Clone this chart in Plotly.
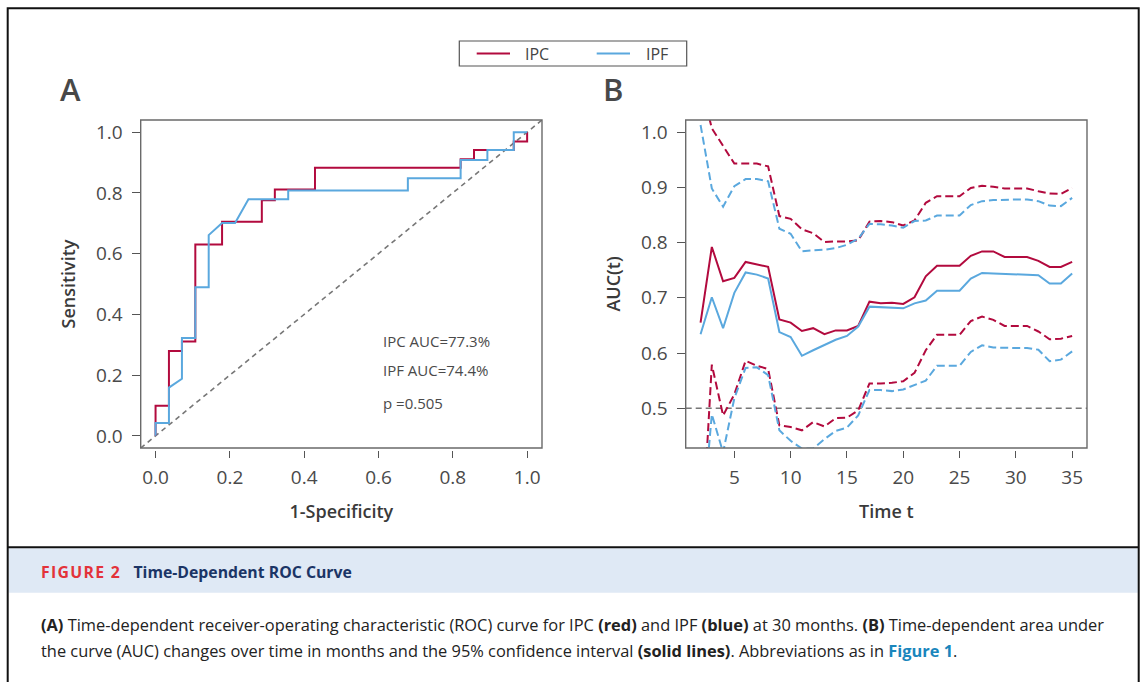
import plotly.graph_objects as go

# ---------------- data ----------------
# Panel A: time-dependent ROC at 30 months (step vertices)
ipc_fpr = [0, 0, 0.036, 0.036, 0.071, 0.071, 0.107, 0.107, 0.179, 0.179, 0.286, 0.286,
           0.321, 0.321, 0.429, 0.429, 0.821, 0.821, 0.857, 0.857, 0.964, 0.964, 1.0, 1.0]
ipc_tpr = [0, 0.099, 0.099, 0.279, 0.279, 0.311, 0.311, 0.630, 0.630, 0.705, 0.705, 0.776,
           0.776, 0.811, 0.811, 0.883, 0.883, 0.911, 0.911, 0.941, 0.941, 0.969, 0.969, 1.0]
ipf_fpr = [0, 0, 0.036, 0.036, 0.071, 0.071, 0.107, 0.107, 0.143, 0.143, 0.179, 0.214,
           0.250, 0.357, 0.357, 0.679, 0.679, 0.821, 0.821, 0.893, 0.893, 0.964, 0.964, 1.0]
ipf_tpr = [0, 0.042, 0.042, 0.159, 0.188, 0.322, 0.322, 0.489, 0.489, 0.661, 0.701, 0.701,
           0.779, 0.779, 0.808, 0.808, 0.848, 0.848, 0.908, 0.908, 0.941, 0.941, 1.0, 1.0]
auc_labels = ["IPC AUC=77.3%", "IPF AUC=74.4%", "p =0.505"]

# Panel B: AUC(t) over time with 95% CI
time_t = list(range(2, 36))
ipc_auc = [0.655, 0.792, 0.730, 0.736, 0.765, 0.760, 0.756, 0.661, 0.655, 0.640, 0.645, 0.634,
           0.641, 0.641, 0.649, 0.693, 0.690, 0.691, 0.689, 0.701, 0.739, 0.758, 0.758, 0.758,
           0.776, 0.784, 0.784, 0.774, 0.774, 0.774, 0.767, 0.756, 0.756, 0.765]
ipc_upper = [1.090, 1.007, 0.975, 0.943, 0.943, 0.943, 0.938, 0.848, 0.843, 0.824, 0.817, 0.801,
             0.802, 0.802, 0.804, 0.838, 0.839, 0.837, 0.831, 0.840, 0.872, 0.884, 0.884, 0.884,
             0.899, 0.903, 0.901, 0.898, 0.898, 0.898, 0.893, 0.889, 0.888, 0.899]
ipc_lower = [0.220, 0.579, 0.487, 0.525, 0.586, 0.577, 0.571, 0.469, 0.466, 0.460, 0.475, 0.467,
             0.482, 0.483, 0.496, 0.545, 0.545, 0.546, 0.549, 0.564, 0.605, 0.633, 0.633, 0.633,
             0.658, 0.666, 0.660, 0.649, 0.649, 0.649, 0.639, 0.625, 0.626, 0.631]
ipf_auc = [0.634, 0.701, 0.645, 0.709, 0.746, 0.742, 0.735, 0.638, 0.629, 0.595, 0.605, 0.615,
           0.624, 0.631, 0.648, 0.684, 0.683, 0.682, 0.681, 0.690, 0.695, 0.713, 0.713, 0.713,
           0.735, 0.745, 0.744, 0.743, 0.743, 0.742, 0.741, 0.726, 0.726, 0.744]
ipf_upper = [1.013, 0.898, 0.865, 0.902, 0.915, 0.915, 0.911, 0.825, 0.816, 0.784, 0.786, 0.787,
             0.790, 0.796, 0.807, 0.834, 0.833, 0.831, 0.827, 0.839, 0.840, 0.849, 0.849, 0.849,
             0.868, 0.875, 0.877, 0.878, 0.878, 0.878, 0.875, 0.867, 0.866, 0.881]
ipf_lower = [0.255, 0.489, 0.420, 0.518, 0.573, 0.574, 0.560, 0.460, 0.441, 0.427, 0.427, 0.444,
             0.459, 0.465, 0.487, 0.533, 0.533, 0.531, 0.534, 0.542, 0.550, 0.577, 0.577, 0.577,
             0.602, 0.614, 0.610, 0.609, 0.609, 0.609, 0.606, 0.585, 0.588, 0.603]

a_ticks = [0.0, 0.2, 0.4, 0.6, 0.8, 1.0]
b_xticks = [5, 10, 15, 20, 25, 30, 35]
b_yticks = [0.5, 0.6, 0.7, 0.8, 0.9, 1.0]
legend_names = ["IPC", "IPF"]

# ---------------- style ----------------
W, H = 1142, 682
def px(x):
    return x / W
def py(y):
    return 1 - y / H

RED = "#b20a3e"
BLUE = "#5aa8de"
FONT = "Open Sans"
TICKC = "#4a4a4a"
TITLEC = "#3a3a3a"
FRAMEC = "#6a6a6a"

fig = go.Figure()

# Panel A
fig.add_trace(go.Scatter(x=ipc_fpr, y=ipc_tpr, mode="lines", name=legend_names[0], showlegend=False,
                         line=dict(color=RED, width=2), xaxis="x", yaxis="y"))
fig.add_trace(go.Scatter(x=ipf_fpr, y=ipf_tpr, mode="lines", name=legend_names[1], showlegend=False,
                         line=dict(color=BLUE, width=2), xaxis="x", yaxis="y"))

# Panel B
dash_ci = "8px,4px"
for vals, dsh in [(ipc_upper, dash_ci), (ipc_auc, "solid"), (ipc_lower, dash_ci)]:
    fig.add_trace(go.Scatter(x=time_t, y=vals, mode="lines", showlegend=False, name=legend_names[0],
                             line=dict(color=RED, width=2, dash=dsh), xaxis="x2", yaxis="y2"))
for vals, dsh in [(ipf_upper, dash_ci), (ipf_auc, "solid"), (ipf_lower, dash_ci)]:
    fig.add_trace(go.Scatter(x=time_t, y=vals, mode="lines", showlegend=False, name=legend_names[1],
                             line=dict(color=BLUE, width=2, dash=dsh), xaxis="x2", yaxis="y2"))

tickfont = dict(family=FONT, size=19, color=TICKC)
titlefont = dict(family=FONT, size=18, color=TITLEC, weight=600)

common_x = dict(showgrid=False, zeroline=False, showline=False, ticks="outside", ticklen=7,
                tickwidth=1.3, tickcolor="#555", tickfont=tickfont, automargin=False,
                anchor="free", position=py(449.5), ticklabelstandoff=4)
common_y = dict(showgrid=False, zeroline=False, showline=False, ticks="outside", ticklen=8,
                tickwidth=1.3, tickcolor="#555", tickfont=tickfont, automargin=False,
                anchor="free", tickformat=".1f", ticklabelstandoff=5)

dom_y = [py(448), py(120)]
fig.update_layout(
    xaxis=dict(domain=[px(140.7), px(542)], range=[-0.04, 1.04], tickvals=a_ticks, tickformat=".1f",
               title=dict(text="1-Specificity", font=titlefont, standoff=16), **common_x),
    yaxis=dict(domain=dom_y, range=[-0.04, 1.04], tickvals=a_ticks, position=px(139.5),
               title=dict(text="Sensitivity", font=titlefont, standoff=14), **common_y),
    xaxis2=dict(domain=[px(685.7), px(1087)], range=[0.68, 36.32], tickvals=b_xticks,
                title=dict(text="Time t", font=titlefont, standoff=16), **common_x),
    yaxis2=dict(domain=dom_y, range=[0.428, 1.022], tickvals=b_yticks, position=px(684.5),
                title=dict(text="AUC(t)", font=titlefont, standoff=14), **common_y),
)

shapes = [
    # caption band
    dict(type="rect", xref="paper", yref="paper", x0=px(8.7), x1=px(1137.7), y0=py(592.7), y1=py(548.3),
         fillcolor="#dfe9f5", line=dict(width=0), layer="below"),
    # separator
    dict(type="line", xref="paper", yref="paper", x0=px(7.7), x1=px(1138.7), y0=py(547.3), y1=py(547.3),
         line=dict(color="#111", width=2)),
    # outer border
    dict(type="rect", xref="paper", yref="paper", x0=px(7.7), x1=px(1138.7), y0=py(700), y1=py(8.2),
         line=dict(color="#111", width=2)),
    # frames
    dict(type="rect", xref="x domain", yref="y domain", x0=0, x1=1, y0=0, y1=1,
         line=dict(color=FRAMEC, width=1.4)),
    dict(type="rect", xref="x2 domain", yref="y2 domain", x0=0, x1=1, y0=0, y1=1,
         line=dict(color=FRAMEC, width=1.4)),
    # reference lines
    dict(type="line", xref="x", yref="y", x0=-0.04, y0=-0.04, x1=1.04, y1=1.04,
         line=dict(color="#777", width=1.6, dash="5px,4px"), layer="below"),
    dict(type="line", xref="x2 domain", yref="y2", x0=0, x1=1, y0=0.5, y1=0.5,
         line=dict(color="#777", width=1.6, dash="6px,4px"), layer="below"),
    # legend box and keys
    dict(type="rect", xref="paper", yref="paper", x0=px(459.3), x1=px(686.7), y0=py(66), y1=py(41),
         line=dict(color="#555", width=1.2), fillcolor="white"),
    dict(type="line", xref="paper", yref="paper", x0=px(476.7), x1=px(510), y0=py(53.5), y1=py(53.5),
         line=dict(color=RED, width=2.2)),
    dict(type="line", xref="paper", yref="paper", x0=px(596.7), x1=px(630), y0=py(53.5), y1=py(53.5),
         line=dict(color=BLUE, width=2.2)),
]

ann = []
for txt, xx in zip(legend_names, [522.7, 644]):
    ann.append(dict(text=txt, xref="paper", yref="paper", x=px(xx), y=py(53.5), xanchor="left",
                    yanchor="middle", showarrow=False, font=dict(family=FONT, size=16, color="#444")))
for txt, yv in zip(auc_labels, [0.3125, 0.217, 0.1086]):
    ann.append(dict(text=txt, xref="x", yref="y", x=0.606, y=yv, xanchor="left", yanchor="middle",
                    showarrow=False, font=dict(family=FONT, size=15, color=TICKC)))
ann.append(dict(text="A", xref="paper", yref="paper", x=px(58), y=py(89), xanchor="left", yanchor="middle",
                showarrow=False, font=dict(family=FONT, size=31, color="#484848", weight=600)))
ann.append(dict(text="B", xref="paper", yref="paper", x=px(601), y=py(89), xanchor="left", yanchor="middle",
                showarrow=False, font=dict(family=FONT, size=31, color="#484848", weight=600)))
ann.append(dict(text="<span style='color:#e3323a;letter-spacing:1.3px'><b>FIGURE 2</b></span>"
                     "&nbsp;&nbsp;&nbsp;<span style='color:#1b3566'><b>Time-Dependent ROC Curve</b></span>",
                xref="paper", yref="paper", x=px(38.5), y=py(571.5), xanchor="left", yanchor="middle",
                showarrow=False, font=dict(family=FONT, size=15.8, color="#1b3566")))
ann.append(dict(text="<b>(A)</b> Time-dependent receiver-operating characteristic (ROC) curve for IPC "
                     "<b>(red)</b> and IPF <b>(blue)</b> at 30 months. <b>(B)</b> Time-dependent area under",
                xref="paper", yref="paper", x=px(38.5), y=py(624), xanchor="left", yanchor="middle",
                showarrow=False, font=dict(family=FONT, size=16.4, color="#222")))
ann.append(dict(text="the curve (AUC) changes over time in months and the 95% confidence interval "
                     "<b>(solid lines)</b>. Abbreviations as in "
                     "<span style='color:#1a86bd'><b>Figure 1</b></span>.",
                xref="paper", yref="paper", x=px(38.5), y=py(650), xanchor="left", yanchor="middle",
                showarrow=False, font=dict(family=FONT, size=16.4, color="#222")))

fig.update_layout(
    width=W, height=H, margin=dict(l=0, r=0, t=0, b=0),
    paper_bgcolor="white", plot_bgcolor="rgba(0,0,0,0)",
    shapes=shapes, annotations=ann, showlegend=False,
    font=dict(family=FONT, color=TICKC),
)

fig.write_html("out.html")
